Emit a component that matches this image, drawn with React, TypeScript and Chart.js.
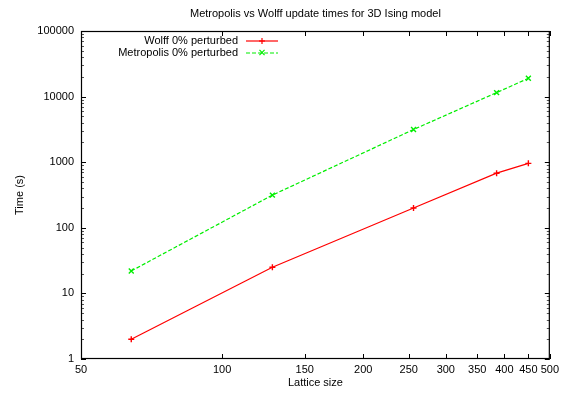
import React, { useEffect, useRef } from "react";
import { Chart, registerables } from "chart.js";

Chart.register(...registerables);

const chartTitle = "Metropolis vs Wolff update times for 3D Ising model";
const xAxisTitle = "Lattice size";
const yAxisTitle = "Time (s)";
const latticeSizes = [64, 128, 256, 385, 450];
const wolffTimes = [2, 25, 200, 680, 960];
const metropolisTimes = [22, 315, 3150, 11500, 19000];
const wolffLabel = "Wolff 0% perturbed";
const metropolisLabel = "Metropolis 0% perturbed";
const xTickValues = [50, 100, 150, 200, 250, 300, 350, 400, 450, 500];
const yTickValues = [1, 10, 100, 1000, 10000, 100000];

const FONT = "'Liberation Sans', Arial, Helvetica, sans-serif";

const gnuplotPlugin = {
  id: "gnuplotFrame",
  afterDatasetsDraw(chart: any) {
    const { ctx, chartArea: a, scales } = chart;
    const xs = scales.x;
    const ys = scales.y;
    ctx.save();
    ctx.strokeStyle = "#000";
    ctx.lineWidth = 1;
    const seg = (x1: number, y1: number, x2: number, y2: number) => {
      ctx.beginPath();
      ctx.moveTo(x1, y1);
      ctx.lineTo(x2, y2);
      ctx.stroke();
    };
    const major = 5;
    const minor = 3;
    for (const v of xTickValues) {
      const px = Math.round(xs.getPixelForValue(v)) + 0.5;
      seg(px, a.bottom, px, a.bottom - major);
      seg(px, a.top, px, a.top + major);
    }
    for (let i = 0; i < yTickValues.length; i++) {
      const v = yTickValues[i];
      const py = Math.round(ys.getPixelForValue(v)) + 0.5;
      seg(a.left, py, a.left + major, py);
      seg(a.right, py, a.right - major, py);
      if (i < yTickValues.length - 1) {
        ctx.strokeStyle = "#555";
        for (let m = 2; m <= 9; m++) {
          const pm = Math.round(ys.getPixelForValue(v * m)) + 0.5;
          seg(a.left, pm, a.left + minor, pm);
          seg(a.right, pm, a.right - minor, pm);
        }
        ctx.strokeStyle = "#000";
      }
    }
    ctx.lineWidth = 1.2;
    ctx.strokeRect(a.left + 0.5, a.top + 0.5, a.right - a.left - 1, a.bottom - a.top - 1);

    // title centered over plot area
    ctx.fillStyle = "#000";
    ctx.font = `11px ${FONT}`;
    ctx.textAlign = "center";
    ctx.textBaseline = "middle";
    ctx.fillText(chartTitle, (a.left + a.right) / 2, 14);

    // legend (gnuplot style: text right-aligned, sample to the right)
    const legendYs = [40.5, 52.5];
    chart.data.datasets.forEach((ds: any, i: number) => {
      const ly = legendYs[i];
      ctx.fillStyle = "#000";
      ctx.textAlign = "right";
      ctx.fillText(ds.label, 238, ly);
      ctx.strokeStyle = ds.borderColor;
      ctx.lineWidth = 1.2;
      ctx.setLineDash(ds.borderDash || []);
      seg(246, ly + 0.5, 278, ly + 0.5);
      ctx.setLineDash([]);
      const r = 3;
      const cx = 262;
      if (ds.pointStyle === "cross") {
        seg(cx - r, ly + 0.5, cx + r, ly + 0.5);
        seg(cx, ly - r + 0.5, cx, ly + r + 0.5);
      } else {
        const d = r * 0.85;
        seg(cx - d, ly - d, cx + d, ly + d);
        seg(cx - d, ly + d, cx + d, ly - d);
      }
    });
    ctx.restore();
  },
};

export default function App() {
  const canvasRef = useRef<HTMLCanvasElement | null>(null);

  useEffect(() => {
    const canvas = canvasRef.current;
    if (!canvas) return;
    const chart = new Chart(canvas, {
      type: "line",
      data: {
        datasets: [
          {
            label: wolffLabel,
            data: latticeSizes.map((x, i) => ({ x, y: wolffTimes[i] })),
            borderColor: "#ff0000",
            backgroundColor: "#ff0000",
            borderWidth: 1.2,
            pointStyle: "cross",
            pointRadius: 3,
            pointBorderWidth: 1.4,
            pointBorderColor: "#ff0000",
            tension: 0,
            fill: false,
          },
          {
            label: metropolisLabel,
            data: latticeSizes.map((x, i) => ({ x, y: metropolisTimes[i] })),
            borderColor: "#00ee00",
            backgroundColor: "#00ee00",
            borderWidth: 1.2,
            borderDash: [4, 2],
            pointStyle: "crossRot",
            pointRadius: 3.5,
            pointBorderWidth: 1.4,
            pointBorderColor: "#00ee00",
            tension: 0,
            fill: false,
          },
        ] as any,
      },
      options: {
        responsive: false,
        animation: false,
        layout: { padding: { left: 0, right: 10, top: 31, bottom: 0 } },
        plugins: {
          legend: { display: false },
          title: { display: false },
          tooltip: { enabled: false },
        },
        scales: {
          x: {
            type: "logarithmic",
            min: 50,
            max: 500,
            afterBuildTicks: (scale: any) => {
              scale.ticks = xTickValues.map((v) => ({ value: v }));
            },
            afterFit: (scale: any) => {
              scale.height = 34;
            },
            grid: { display: false, drawTicks: false },
            border: { display: false },
            ticks: {
              autoSkip: false,
              maxRotation: 0,
              padding: 4,
              color: "#000",
              font: { family: FONT, size: 11 },
              callback: (v: any) => String(v),
            },
            title: {
              display: true,
              text: xAxisTitle,
              color: "#000",
              font: { family: FONT, size: 11 },
              padding: { top: 0, bottom: 3 },
            },
          },
          y: {
            type: "logarithmic",
            min: 1,
            max: 100000,
            afterBuildTicks: (scale: any) => {
              scale.ticks = yTickValues.map((v) => ({ value: v }));
            },
            afterFit: (scale: any) => {
              scale.width = 81;
            },
            grid: { display: false, drawTicks: false },
            border: { display: false },
            ticks: {
              autoSkip: false,
              padding: 7,
              color: "#000",
              font: { family: FONT, size: 11 },
              callback: (v: any) => String(v),
            },
            title: {
              display: true,
              text: yAxisTitle,
              color: "#000",
              font: { family: FONT, size: 11 },
              padding: { top: 13, bottom: 0 },
            },
          },
        },
      } as any,
      plugins: [gnuplotPlugin],
    });
    return () => chart.destroy();
  }, []);

  return (
    <div style={{ position: "absolute", left: 0, top: 0, width: 563, height: 393, background: "#fff" }}>
      <canvas ref={canvasRef} width={563} height={393} style={{ display: "block" }} />
    </div>
  );
}
